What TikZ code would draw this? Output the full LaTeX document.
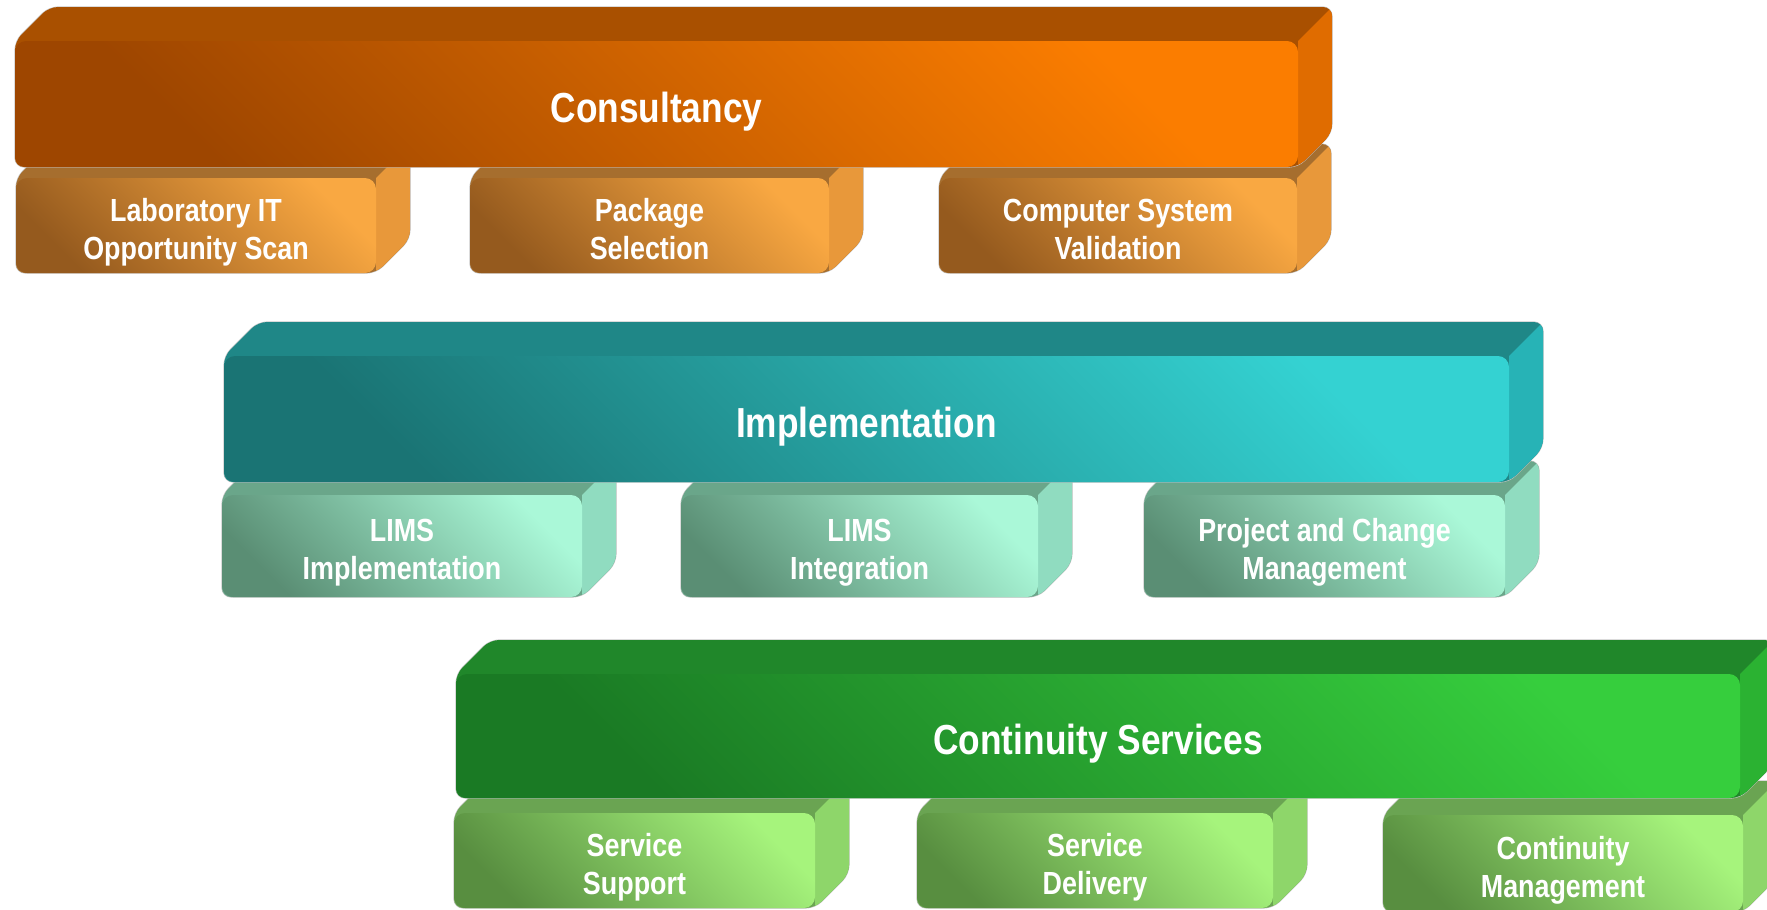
\documentclass[tikz,border=0pt]{standalone}
\usepackage{fontspec}
\setmainfont[FakeStretch=0.84]{Liberation Sans}
\definecolor{obTop}{HTML}{A95000}
\definecolor{obSide}{HTML}{E06C00}
\definecolor{obDark}{HTML}{9E4600}
\definecolor{obLight}{HTML}{FB7D00}
\definecolor{osTop}{HTML}{A66E2E}
\definecolor{osSide}{HTML}{E8983A}
\definecolor{osDark}{HTML}{955A1E}
\definecolor{osLight}{HTML}{F9A842}
\definecolor{tbTop}{HTML}{1F8787}
\definecolor{tbSide}{HTML}{27B3B6}
\definecolor{tbDark}{HTML}{1A7474}
\definecolor{tbLight}{HTML}{34D2D2}
\definecolor{tsTop}{HTML}{6AA68A}
\definecolor{tsSide}{HTML}{90DCC0}
\definecolor{tsDark}{HTML}{5A8E74}
\definecolor{tsLight}{HTML}{AAF8D8}
\definecolor{gbTop}{HTML}{20872A}
\definecolor{gbSide}{HTML}{2BB232}
\definecolor{gbDark}{HTML}{1A7A24}
\definecolor{gbLight}{HTML}{36CE3D}
\definecolor{gsTop}{HTML}{6AA452}
\definecolor{gsSide}{HTML}{8ED66A}
\definecolor{gsDark}{HTML}{588E40}
\definecolor{gsLight}{HTML}{A6F47C}
\tikzset{
  frontbase/.style={rectangle, rounded corners=11, inner sep=0pt, outer sep=0pt, text=white, align=center},
  bigtext/.style={font=\bfseries\fontsize{42}{50}\selectfont,
    execute at begin node={\rule{0pt}{46pt}}, execute at end node={\rule[-8pt]{0pt}{8pt}}},
  smalltext/.style={font=\bfseries\fontsize{32}{38}\selectfont,
    execute at begin node={\rule{0pt}{75pt}}, execute at end node={\rule[-8pt]{0pt}{8pt}}},
  ob-top/.style={fill=obTop}, ob-side/.style={fill=obSide},
  ob-front/.style={frontbase, bigtext, top color=obLight, bottom color=obDark, shading angle=-45},
  os-top/.style={fill=osTop}, os-side/.style={fill=osSide},
  os-front/.style={frontbase, smalltext, top color=osLight, bottom color=osDark, shading angle=-45},
  tb-top/.style={fill=tbTop}, tb-side/.style={fill=tbSide},
  tb-front/.style={frontbase, bigtext, top color=tbLight, bottom color=tbDark, shading angle=-45},
  ts-top/.style={fill=tsTop}, ts-side/.style={fill=tsSide},
  ts-front/.style={frontbase, smalltext, top color=tsLight, bottom color=tsDark, shading angle=-45},
  gb-top/.style={fill=gbTop}, gb-side/.style={fill=gbSide},
  gb-front/.style={frontbase, bigtext, top color=gbLight, bottom color=gbDark, shading angle=-45},
  gs-top/.style={fill=gsTop}, gs-side/.style={fill=gsSide},
  gs-front/.style={frontbase, smalltext, top color=gsLight, bottom color=gsDark, shading angle=-45},
  rim/.style={draw=black!22, line width=1.2},
}
% #1 name, #2 family, #3 x1, #4 y1, #5 x2, #6 y2 (front face, pixels), #7 text
\newcommand\slab[7]{%
  \draw[rim, rounded corners=9] (#3,#4) -- (#3+34,#4-34) -- (#5+34,#4-34) -- (#5+34,#6-34) -- (#5,#6) -- (#3,#6) -- cycle;
  \begin{scope}
    \clip[rounded corners=9] (#3,#4) -- (#3+34,#4-34) -- (#5+34,#4-34) -- (#5+34,#6-34) -- (#5,#6) -- (#3,#6) -- cycle;
    \fill[#2-top] (#3-5,#4-40) rectangle (#5+40,#6+5);
    \fill[#2-side] (#5,#4) -- (#5+34,#4-34) -- (#5+34,#6-34) -- (#5,#6) -- cycle;
  \end{scope}
  \node[#2-front, minimum width={#5-#3}, minimum height={#6-#4}] (#1) at ({(#3+#5)/2},{(#4+#6)/2}) {#7};
}
\begin{document}
\begin{tikzpicture}[x=1pt, y=-1pt]
  \useasboundingbox (0,0) rectangle (1767,910);
  \clip (0,0) rectangle (1767,910);
  % row 1
  \slab{lab}{os}{16}{178}{376}{273}{Laboratory IT\\Opportunity Scan}
  \slab{pkg}{os}{470}{178}{829}{273}{Package\\Selection}
  \slab{csv}{os}{939}{178}{1297}{273}{Computer System\\Validation}
  \slab{cons}{ob}{15}{41}{1298}{167}{Consultancy}
  % row 2
  \slab{limsimpl}{ts}{222}{495}{582}{597}{LIMS\\Implementation}
  \slab{limsint}{ts}{681}{495}{1038}{597}{LIMS\\Integration}
  \slab{pcm}{ts}{1144}{495}{1505}{597}{Project and Change\\Management}
  \slab{impl}{tb}{224}{356}{1509}{482}{Implementation}
  % row 3
  \slab{ss}{gs}{454}{813}{815}{908}{Service\\Support}
  \slab{sd}{gs}{917}{813}{1273}{908}{Service\\Delivery}
  \slab{cm}{gs}{1383}{815}{1743}{912}{Continuity\\Management}
  \slab{cont}{gb}{456}{674}{1740}{798}{Continuity Services}
\end{tikzpicture}
\end{document}
